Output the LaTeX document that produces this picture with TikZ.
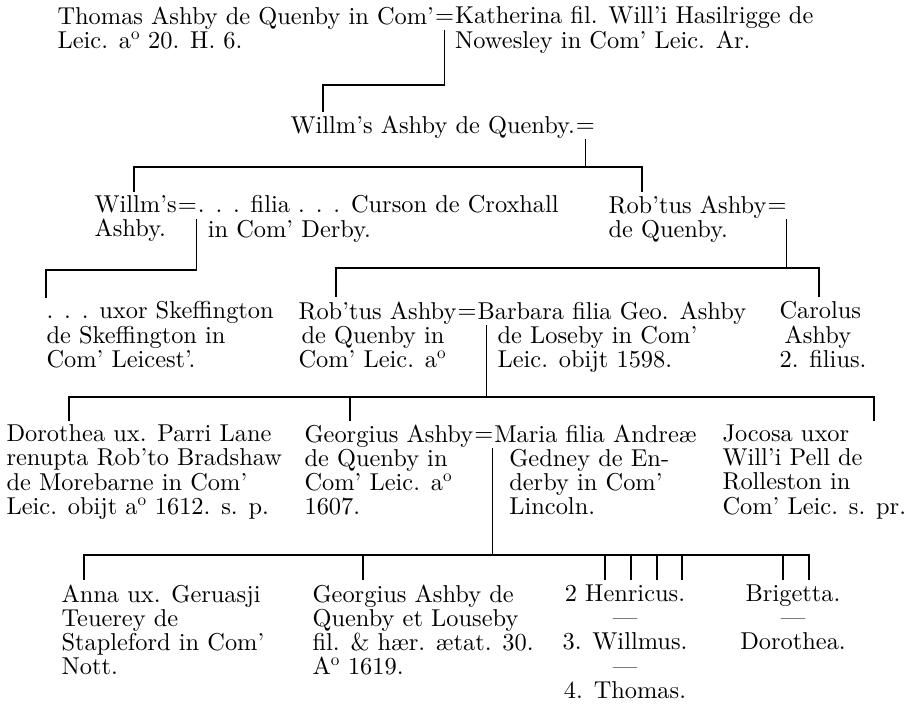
\documentclass[tikz,border=0pt]{standalone}
\usepackage{fontspec}
\setmainfont{lmroman10-regular.otf}
\usepackage{tikz}
\tikzset{every node/.append style={font=\fontsize{24.4}{24.3}\selectfont}}

\begin{document}
\begin{tikzpicture}[x=1pt, y=-1pt, line width=1.1pt,
    pers/.style={align=left, anchor=north west, inner sep=0pt, execute at begin node=\strut},
    kids/.style={align=center, anchor=north, inner sep=0pt, execute at begin node=\strut},
    eq/.style={anchor=north west, inner sep=0pt, execute at begin node=\strut}]
    \useasboundingbox (0,0) rectangle (908,705);
    % levels of the bars
    \coordinate (h1) at (0,85);
    \coordinate (h2) at (0,167);
    \coordinate (h3) at (0,270);
    \coordinate (h3r) at (0,268);
    \coordinate (h4) at (0,397);
    \coordinate (h5) at (0,555);

    % Thomas = Katherina
    \node[pers] (thomas) at (57,6) {Thomas Ashby de Quenby in Com'\\Leic. a\textsuperscript{o} 20. H. 6.};
    \node[eq] (m1) at (thomas.north east) {=};
    \node[pers] (kath) at (m1.north east) {Katherina fil. Will'i Hasilrigge de\\Nowesley in Com' Leic. Ar.};
    \coordinate (k1) at (323,112);
    \draw ([yshift=-24pt]m1.north) |- (k1 |- h1) -- (k1);

    % Willm's
    \node[pers] (willm) at (290,115) {Willm's Ashby de Quenby.};
    \node[eq] (m2) at (willm.north east) {=};
    \coordinate (k2a) at (134,192);
    \coordinate (k2b) at (642,192);
    \draw (k2a) |- (k2b |- h2) -- (k2b);
    \draw ([yshift=-24pt]m2.north) -- (m2.north |- h2);

    % Willm's = ... Curson
    \node[pers] (will2) at (94,195) {Willm's\\Ashby.};
    \node[eq] (m3) at (will2.north east) {=};
    \node[pers] (curson) at (m3.north east) {. . . filia . . . Curson de Croxhall\\\hspace*{10pt}in Com' Derby.};
    \coordinate (k3a) at (46,298);
    \draw (k3a) |- ([xshift=-1pt]m3.north east |- h3) -- ([xshift=-1pt,yshift=-24pt]m3.north east);

    % Rob'tus = ...
    \node[pers] (rob1) at (608,195) {Rob'tus Ashby\\de Quenby.};
    \node[eq] (m4) at (rob1.north east) {=};
    \coordinate (k3b) at (336,297);
    \coordinate (k3c) at (819,297);
    \draw (k3b) |- (k3c |- h3r) -- (k3c);
    \draw ([xshift=-1pt,yshift=-24pt]m4.north east) -- ([xshift=-1pt]m4.north east |- h3r);

    % third row
    \node[pers] (skef) at (46,301) {. . . uxor Skeffington\\de Skeffington in\\Com' Leicest'.};
    \node[pers] (rob2) at (298,301) {Rob'tus Ashby\\\hspace*{3pt}de Quenby in\\Com' Leic. a\textsuperscript{o}};
    \node[eq] (m5) at (rob2.north east) {=};
    \node[pers] (barb) at (m5.north east) {Barbara filia Geo. Ashby\\\hspace*{20pt}de Loseby in Com'\\\hspace*{20pt}Leic. obijt 1598.};
    \node[pers] (carol) at (779,301) {Carolus\\\hspace*{5pt}Ashby\\2. filius.};
    \coordinate (k4a) at (69,421);
    \coordinate (k4b) at (350,421);
    \coordinate (k4c) at (874,421);
    \draw (k4a) |- (k4c |- h4) -- (k4c);
    \draw (k4b |- h4) -- (k4b);
    \draw ([xshift=9pt,yshift=-24pt]m5.north east) -- ([xshift=9pt]m5.north east |- h4);

    % fourth row
    \node[pers] (doro) at (6,424) {Dorothea ux. Parri Lane\\renupta Rob'to Bradshaw\\de Morebarne in Com'\\Leic. obijt a\textsuperscript{o} 1612. s. p.};
    \node[pers] (georg) at (304,424) {Georgius Ashby\\de Quenby in\\Com' Leic. a\textsuperscript{o}\\1607.};
    \node[eq] (m6) at (georg.north east) {=};
    \node[pers] (maria) at (m6.north east) {Maria filia Andre\ae\\\hspace*{15pt}Gedney de En-\\\hspace*{15pt}derby in Com'\\\hspace*{15pt}Lincoln.};
    \node[pers] (jocosa) at (722,424) {Jocosa uxor\\Will'i Pell de\\Rolleston in\\Com' Leic. s. pr.};
    \foreach \n/\x in {a/84, b/363, c/605, d/631, e/657, f/682, g/783, h/809}
        \coordinate (k5\n) at (\x,580);
    \draw (k5a) |- (k5h |- h5) -- (k5h);
    \foreach \n in {b,c,d,e,f,g}
        \draw (k5\n |- h5) -- (k5\n);
    \draw ([xshift=-1pt,yshift=-24pt]m6.north east) -- ([xshift=-1pt]m6.north east |- h5);

    % fifth row
    \node[pers] (anna) at (61,584) {Anna ux. Geruasji\\Teuerey de\\Stapleford in Com'\\Nott.};
    \node[pers] (georg2) at (312,584) {Georgius Ashby de\\Quenby et Louseby\\fil. \& h\ae r. \ae tat. 30.\\A\textsuperscript{o} 1619.};
    \node[kids] (henr) at (625,584) {2 Henricus.\\---\\3. Willmus.\\---\\4. Thomas.};
    \node[kids] (brig) at (793,584) {Brigetta.\\---\\Dorothea.};
\end{tikzpicture}
\end{document}
